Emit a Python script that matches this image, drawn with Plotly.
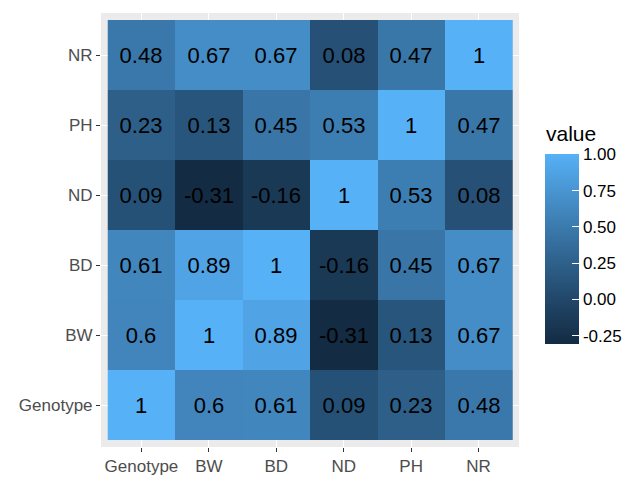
import plotly.graph_objects as go
import numpy as np

variables = ["Genotype", "BW", "BD", "ND", "PH", "NR"]
row_genotype = [1, 0.6, 0.61, 0.09, 0.23, 0.48]
row_bw = [0.6, 1, 0.89, -0.31, 0.13, 0.67]
row_bd = [0.61, 0.89, 1, -0.16, 0.45, 0.67]
row_nd = [0.09, -0.31, -0.16, 1, 0.53, 0.08]
row_ph = [0.23, 0.13, 0.45, 0.53, 1, 0.47]
row_nr = [0.48, 0.67, 0.67, 0.08, 0.47, 1]
colorbar_ticks = [-0.25, 0, 0.25, 0.5, 0.75, 1]

z = [row_genotype, row_bw, row_bd, row_nd, row_ph, row_nr]
text = [[f"{v:g}" for v in r] for r in z]


# ggplot2-like gradient (Lab interpolation) from #132B43 to #56B1F7
def srgb_to_lin(c):
    c = c / 255.0
    return np.where(c <= 0.04045, c / 12.92, ((c + 0.055) / 1.055) ** 2.4)


def lin_to_srgb(c):
    c = np.clip(c, 0, 1)
    return np.where(c <= 0.0031308, 12.92 * c, 1.055 * c ** (1 / 2.4) - 0.055) * 255


M = np.array([[0.4124, 0.3576, 0.1805], [0.2126, 0.7152, 0.0722], [0.0193, 0.1192, 0.9505]])
Minv = np.linalg.inv(M)
white = M @ np.ones(3)


def f(t):
    d = 6 / 29
    return np.where(t > d ** 3, np.cbrt(t), t / (3 * d * d) + 4 / 29)


def finv(t):
    d = 6 / 29
    return np.where(t > d, t ** 3, 3 * d * d * (t - 4 / 29))


def hex_to_lab(h):
    rgb = np.array([int(h[i:i + 2], 16) for i in (1, 3, 5)], dtype=float)
    xyz = M @ srgb_to_lin(rgb) / white
    fx, fy, fz = f(xyz)
    return np.array([116 * fy - 16, 500 * (fx - fy), 200 * (fy - fz)])


def lab_to_rgb(lab):
    L, a, b = lab
    fy = (L + 16) / 116
    fx = fy + a / 500
    fz = fy - b / 200
    xyz = np.array([finv(fx), finv(fy), finv(fz)]) * white
    rgb = lin_to_srgb(Minv @ xyz)
    return "rgb(%d,%d,%d)" % tuple(np.round(rgb).astype(int))


lo, hi = hex_to_lab("#132B43"), hex_to_lab("#56B1F7")
colorscale = [[t, lab_to_rgb(lo + (hi - lo) * t)] for t in np.linspace(0, 1, 11)]

zmin = min(min(r) for r in z)
zmax = max(max(r) for r in z)

FONT = "Liberation Sans, Arial"
OFF = 8  # default page body margin
W, H = 634 - OFF, 479 - OFF
# target plot area in window pixels: x 101..519, y 13..447
L, R, T, B = 101 - OFF, W - (519 - OFF), 13 - OFF, H - (447 - OFF)
PW = W - L - R
PH = H - T - B


def px_x(x):
    return (x - OFF - L) / PW


def px_y(y):
    return (H - B - (y - OFF)) / PH


fig = go.Figure(
    go.Heatmap(
        z=z,
        x=variables,
        y=variables,
        text=text,
        texttemplate="%{text}",
        textfont=dict(family=FONT, size=22, color="black"),
        colorscale=colorscale,
        zmin=zmin,
        zmax=zmax,
        xgap=0,
        ygap=0,
        colorbar=dict(
            tickvals=colorbar_ticks,
            ticktext=[f"{v:.2f}" for v in colorbar_ticks],
            tickfont=dict(family=FONT, size=17, color="black"),
            ticks="inside",
            ticklen=7,
            tickwidth=1.2,
            tickcolor="white",
            outlinewidth=0,
            thickness=34,
            thicknessmode="pixels",
            len=190,
            lenmode="pixels",
            x=px_x(545),
            xanchor="left",
            xpad=0,
            y=px_y(249.4),
            yanchor="middle",
            ypad=0,
        ),
    )
)

axis_common = dict(
    type="category",
    showgrid=True,
    gridcolor="white",
    gridwidth=1.2,
    ticks="outside",
    ticklen=4,
    tickwidth=1.2,
    tickcolor="#333333",
    tickfont=dict(family=FONT, size=17, color="#4D4D4D"),
    zeroline=False,
    showline=False,
    range=[-0.6, 5.6],
)

fig.update_layout(
    width=W,
    height=H,
    margin=dict(l=L, r=R, t=T, b=B, autoexpand=False),
    plot_bgcolor="#EBEBEB",
    paper_bgcolor="white",
    xaxis=axis_common,
    yaxis=axis_common,
    annotations=[
        dict(
            text="value",
            xref="paper",
            yref="paper",
            x=px_x(544),
            y=px_y(134),
            xanchor="left",
            yanchor="middle",
            showarrow=False,
            font=dict(family=FONT, size=21, color="black"),
        )
    ],
)

fig.write_html("out.html")
